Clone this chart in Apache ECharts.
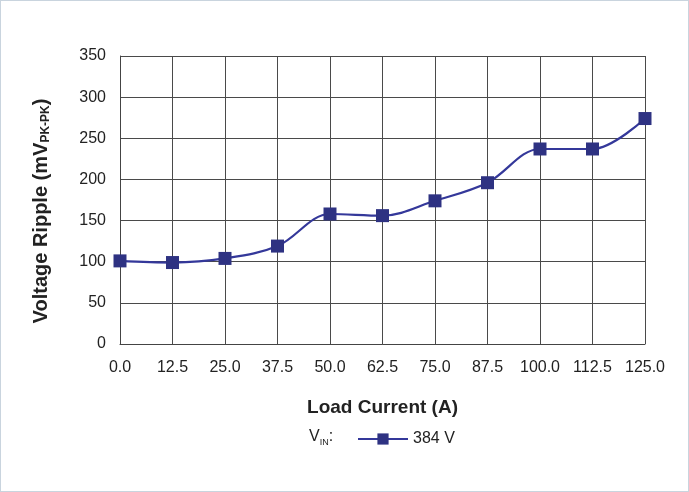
<!DOCTYPE html>
<html>
<head>
<meta charset="utf-8">
<script src="https://cdn.jsdelivr.net/npm/echarts@6/dist/echarts.min.js"></script>
<style>
  html, body { margin: 0; padding: 0; background: #fff; }
  #frame { position: absolute; left: 0; top: 0; width: 687px; height: 490px; border: 1px solid #c9d4de; }
  #chart { width: 689px; height: 492px; position: absolute; left: 0; top: 0; }
</style>
</head>
<body>
<div id="frame"></div>
<div id="chart"></div>
<script>
// Load current (A) and measured ripple (mV pk-pk) at VIN = 384 V
const loadCurrent = [0, 12.5, 25, 37.5, 50, 62.5, 75, 87.5, 100, 112.5, 125];
const ripple384 = [101, 99, 104, 119, 158, 156, 174, 196, 237, 237, 274];
const seriesName = '384 V';

const font = 'Liberation Sans, Arial, sans-serif';
const navy = '#2e3282';

const chart = echarts.init(document.getElementById('chart'));

chart.setOption({
  animation: false,
  grid: { left: 120, right: 44, top: 56, bottom: 148 },
  xAxis: {
    type: 'value',
    min: 0,
    max: 125,
    interval: 12.5,
    name: 'Load Current (A)',
    nameLocation: 'middle',
    nameGap: 54,
    nameTextStyle: { fontFamily: font, fontSize: 19, fontWeight: 'bold', color: '#222' },
    axisLine: { lineStyle: { color: '#444', width: 1 } },
    axisTick: { show: false },
    axisLabel: {
      fontFamily: font, fontSize: 16, color: '#222', margin: 16,
      formatter: v => v.toFixed(1)
    },
    splitLine: { show: true, lineStyle: { color: '#4a4a4a', width: 1 } }
  },
  yAxis: {
    type: 'value',
    min: 0,
    max: 350,
    interval: 50,
    name: '{m|Voltage Ripple (mV}{s|PK-PK}{m|)}',
    nameLocation: 'middle',
    nameGap: 68,
    nameRotate: 90,
    nameTextStyle: {
      padding: [0, 22, 0, 0],
      rich: {
        m: { fontFamily: font, fontSize: 20, fontWeight: 'bold', color: '#222' },
        s: { fontFamily: font, fontSize: 12, fontWeight: 'bold', color: '#222', verticalAlign: 'bottom', padding: [9, 0, 0, 0] }
      }
    },
    axisLine: { show: true, lineStyle: { color: '#444', width: 1 } },
    axisTick: { show: false },
    axisLabel: { fontFamily: font, fontSize: 16, color: '#222', margin: 14 },
    splitLine: { show: true, lineStyle: { color: '#4a4a4a', width: 1 } }
  },
  legend: {
    left: 352,
    top: 426,
    itemWidth: 50,
    itemHeight: 14,
    itemGap: 6,
    textStyle: { fontFamily: font, fontSize: 16, color: '#222' },
    data: [seriesName]
  },
  graphic: [{
    type: 'text',
    left: 309,
    top: 429,
    style: {
      text: '{v|V}{s|IN}{v|:}',
      rich: {
        v: { fontFamily: font, fontSize: 16, fill: '#222' },
        s: { fontFamily: font, fontSize: 9, fill: '#222', padding: [11, 0, 0, 0] }
      }
    }
  }],
  series: [{
    name: seriesName,
    type: 'line',
    smooth: 0.35,
    data: loadCurrent.map((x, i) => [x, ripple384[i]]),
    symbol: 'rect',
    symbolSize: 13,
    itemStyle: { color: navy },
    lineStyle: { color: '#34389a', width: 2.2 }
  }]
});
</script>
</body>
</html>
